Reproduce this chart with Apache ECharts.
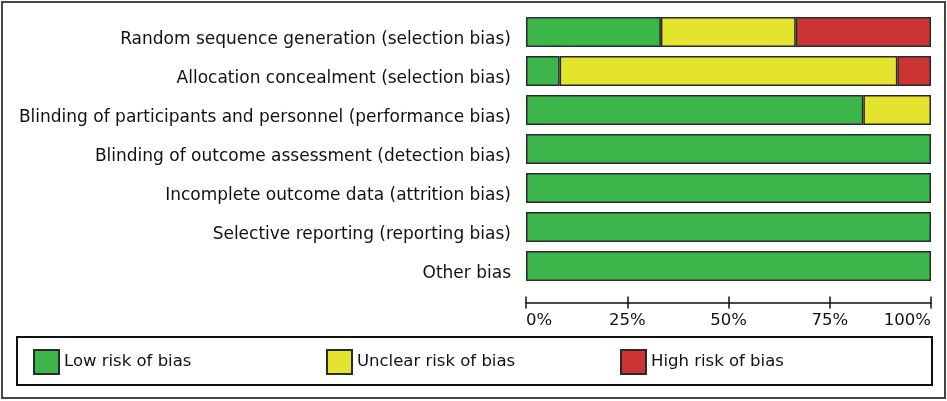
<!DOCTYPE html>
<html>
<head>
<meta charset="utf-8">
<script src="https://cdn.jsdelivr.net/npm/echarts@6/dist/echarts.min.js"></script>
<style>
html,body{margin:0;padding:0;background:#fff;}
#chart{width:947px;height:401px;}
</style>
</head>
<body>
<div id="chart"></div>
<script>
// risk of bias domains, top to bottom
var domains = [
    'Random sequence generation (selection bias)',
    'Allocation concealment (selection bias)',
    'Blinding of participants and personnel (performance bias)',
    'Blinding of outcome assessment (detection bias)',
    'Incomplete outcome data (attrition bias)',
    'Selective reporting (reporting bias)',
    'Other bias'
];
var lowRisk     = [33.3, 8.3, 83.3, 100, 100, 100, 100];
var unclearRisk = [33.3, 83.4, 16.7, 0, 0, 0, 0];
var highRisk    = [33.4, 8.3, 0, 0, 0, 0, 0];
var xTicks = [0, 25, 50, 75, 100];

biasChart();

function biasChart(){
    var chart = echarts.init(document.getElementById('chart'));
    var font = 'DejaVu Sans';
    function bar(name, data, color){
        return {
            name: name,
            type: 'bar',
            stack: 'rob',
            barWidth: 30,
            // empty segments left out so no extra border is drawn
            data: data.map(function(v){ return v === 0 ? '-' : v; }),
            itemStyle: {color: color, borderColor: '#2a2a2a', borderWidth: 1.5},
            emphasis: {disabled: true}
        };
    }
    function legendAt(x, name){
        return {
            data: [name],
            left: x,
            top: 349,
            padding: 0,
            itemWidth: 25,
            itemHeight: 24,
            icon: 'rect',
            itemGap: 0,
            textStyle: {fontFamily: font, fontSize: 16.5, color: '#111'}
        };
    }
    var option = {
        animation: false,
        grid: {left: 526, right: 16, top: 12.5, bottom: 115.5},
        legend: [
            legendAt(33, 'Low risk of bias'),
            legendAt(326, 'Unclear risk of bias'),
            legendAt(620, 'High risk of bias')
        ],
        xAxis: [
            {
                type: 'value', min: xTicks[0], max: xTicks[xTicks.length - 1], interval: 25,
                position: 'bottom', offset: 17,
                splitLine: {show: false},
                axisLine: {show: true, lineStyle: {color: '#111', width: 1.5}},
                axisTick: {show: true, inside: false, length: 6, lineStyle: {color: '#111', width: 1.5}},
                axisLabel: {
                    formatter: '{value}%', margin: 10,
                    fontFamily: font, fontSize: 16.5, color: '#111',
                    alignMinLabel: 'left', alignMaxLabel: 'right'
                }
            },
            {
                type: 'value', min: xTicks[0], max: xTicks[xTicks.length - 1], interval: 25,
                position: 'bottom', offset: 17,
                splitLine: {show: false},
                axisLine: {show: false},
                axisTick: {show: true, inside: true, length: 6, lineStyle: {color: '#111', width: 1.5}},
                axisLabel: {show: false}
            }
        ],
        yAxis: {
            type: 'category',
            data: domains,
            inverse: true,
            axisLine: {show: false},
            axisTick: {show: false},
            // text sits low, baseline near the bar's bottom edge
            axisLabel: {margin: 15, fontFamily: font, fontSize: 17, color: '#111',
                verticalAlign: 'top', lineHeight: 16}
        },
        series: [
            bar('Low risk of bias', lowRisk, '#3cb54a'),
            bar('Unclear risk of bias', unclearRisk, '#e4e32e'),
            bar('High risk of bias', highRisk, '#cc3434')
        ],
        graphic: [
            {type: 'rect', shape: {x: 2, y: 2, width: 943, height: 396}, style: {fill: 'none', stroke: '#444', lineWidth: 2}},
            {type: 'rect', shape: {x: 17, y: 337, width: 915, height: 48}, style: {fill: 'none', stroke: '#111', lineWidth: 2}}
        ]
    };
    chart.setOption(option);
}
</script>
</body>
</html>
